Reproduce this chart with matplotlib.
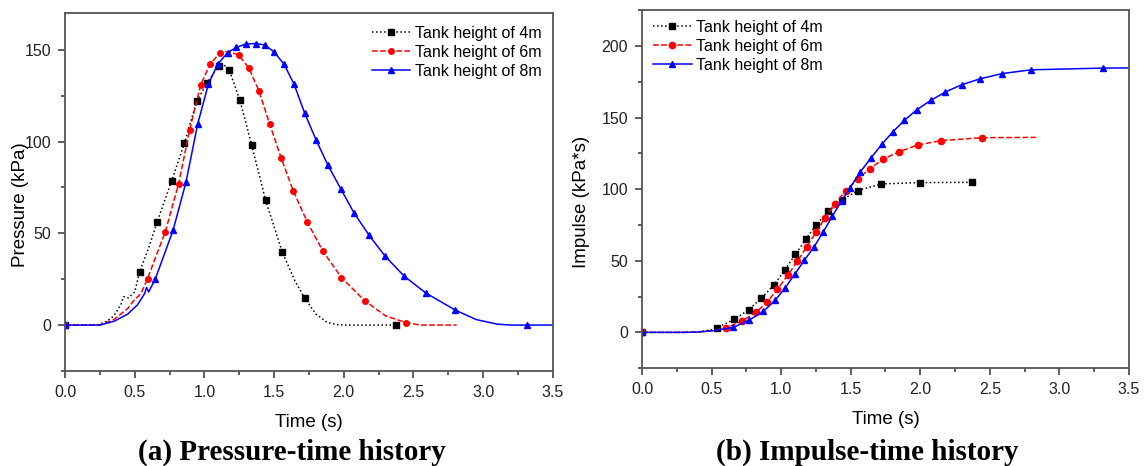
import numpy as np
import matplotlib
matplotlib.use("Agg")
import matplotlib.pyplot as plt
from matplotlib.ticker import MultipleLocator

plt.rcParams['font.family'] = ['Liberation Sans', 'DejaVu Sans']

labels = ["Tank height of 4m", "Tank height of 6m", "Tank height of 8m"]

# pressure-time history, line points (s, kPa)
p4_t = [0, 0.23, 0.30, 0.35, 0.40, 0.42, 0.455, 0.50, 0.535, 0.60, 0.66, 0.765, 0.856, 0.945, 1.02,
        1.10, 1.13, 1.178, 1.254, 1.34, 1.439, 1.559, 1.65, 1.719, 1.80, 1.88, 1.95, 2.0, 2.374, 2.40]
p4_v = [0, 0, 2, 5, 11, 15.5, 14.8, 18, 29, 42, 56, 78.6, 99, 122, 132,
        141, 142.5, 139, 122.7, 98, 68, 39.7, 24, 14.8, 6, 1.5, 0.2, 0, 0, 0]
p6_t = [0, 0.25, 0.35, 0.45, 0.50, 0.53, 0.55, 0.592, 0.65, 0.719, 0.815, 0.894, 0.974, 1.041, 1.110,
        1.17, 1.245, 1.319, 1.391, 1.468, 1.552, 1.638, 1.739, 1.851, 1.983, 2.151, 2.30, 2.448, 2.55, 2.81]
p6_v = [0, 0, 3, 9, 14, 16, 18, 25.2, 37, 50.7, 77, 106.3, 131, 142.2, 148.2,
        149, 147.3, 140, 127.7, 109.6, 90.8, 73, 56, 40.2, 25.9, 13.2, 5, 1.3, 0, 0]
p8_t = [0, 0.25, 0.35, 0.45, 0.52, 0.57, 0.585, 0.60, 0.647, 0.70, 0.775, 0.868, 0.952, 1.029, 1.096,
        1.168, 1.230, 1.297, 1.367, 1.434, 1.499, 1.571, 1.643, 1.719, 1.801, 1.885, 1.978, 2.072,
        2.182, 2.297, 2.434, 2.590, 2.799, 2.95, 3.10, 3.2, 3.317, 3.5]
p8_v = [0, 0, 2, 6, 11, 17, 20.5, 18, 25, 36, 51.6, 77.9, 109.6, 131.3, 142.2,
        148.5, 151.3, 153.1, 153.4, 152.6, 148.9, 142.2, 131.3, 115.6, 100.9, 87.3, 74.3, 61.3,
        48.9, 37.5, 26.6, 17.4, 8.2, 3, 0.5, 0, 0, 0]
# marker points
pm4_t = [0, 0.535, 0.66, 0.765, 0.856, 0.945, 1.02, 1.103, 1.178, 1.254, 1.34, 1.439, 1.559, 1.719, 2.374]
pm4_v = [0, 29, 56.2, 78.6, 99.1, 122.3, 132.1, 141.3, 139.1, 122.7, 98.2, 67.9, 39.7, 14.8, 0]
pm6_t = [0, 0.592, 0.719, 0.815, 0.894, 0.974, 1.041, 1.110, 1.245, 1.319, 1.391, 1.468, 1.552,
         1.638, 1.739, 1.851, 1.983, 2.151, 2.448]
pm6_v = [0, 25.2, 50.7, 77.0, 106.3, 131, 142.2, 148.2, 147.3, 140, 127.7, 109.6, 90.8,
         73, 56, 40.2, 25.9, 13.2, 1.3]
pm8_t = [0, 0.647, 0.775, 0.868, 0.952, 1.029, 1.096, 1.168, 1.230, 1.297, 1.367, 1.434, 1.499,
         1.571, 1.643, 1.719, 1.801, 1.885, 1.978, 2.072, 2.182, 2.297, 2.434, 2.590, 2.799, 3.317]
pm8_v = [0, 25, 51.6, 77.9, 109.6, 131.3, 142.2, 148.5, 151.3, 153.1, 153.4, 152.6, 148.9,
         142.2, 131.3, 115.6, 100.9, 87.3, 74.3, 61.3, 48.9, 37.5, 26.6, 17.4, 8.2, 0]

# impulse-time history (s, kPa*s)
i4_t = [0, 0.3, 0.4, 0.5, 0.541, 0.664, 0.767, 0.858, 0.947, 1.026, 1.102, 1.177, 1.253, 1.339,
        1.435, 1.551, 1.718, 2.0, 2.370, 2.40]
i4_v = [0, 0, 0.3, 1.8, 3.3, 9.1, 15.8, 23.9, 33, 43.5, 54.4, 64.9, 75.3, 84.6,
        92.3, 99, 103.7, 104.6, 104.8, 104.8]
i6_t = [0, 0.3, 0.4, 0.5, 0.601, 0.716, 0.822, 0.901, 0.973, 1.047, 1.117, 1.184, 1.251, 1.316,
        1.388, 1.464, 1.551, 1.639, 1.735, 1.850, 1.982, 2.147, 2.447, 2.83]
i6_v = [0, 0, 0.3, 1.2, 3, 7.7, 14.2, 21.4, 30, 39.8, 49.7, 59.8, 70, 80,
        90, 99, 107.2, 114.4, 121.1, 126.2, 130.9, 133.9, 136, 136.2]
i8_t = [0, 0.3, 0.4, 0.5, 0.657, 0.771, 0.872, 0.956, 1.030, 1.100, 1.167, 1.237, 1.304, 1.368,
        1.435, 1.495, 1.567, 1.644, 1.723, 1.802, 1.886, 1.975, 2.075, 2.181, 2.298, 2.430,
        2.590, 2.797, 3.314, 3.5]
i8_v = [0, 0, 0.2, 1.0, 3.5, 8.6, 14.6, 22.3, 31.2, 40.9, 50.4, 59.8, 70.4, 81.1,
        92, 100.9, 111.8, 121.6, 131.3, 140, 148.1, 155.5, 162, 167.9, 173, 177.1,
        180.8, 183.4, 184.6, 184.7]

styles = [dict(color='k', ls=':', marker='s'),
          dict(color='red', ls='--', marker='o'),
          dict(color='blue', ls='-', marker='^')]

fig = plt.figure(figsize=(11.45, 4.66), dpi=100)
ax1 = fig.add_axes([0.0568, 0.204, 0.426, 0.768])
ax2 = fig.add_axes([0.5607, 0.210, 0.4253, 0.768])


def draw(ax, lines, marks, ms):
    for (t, v), (mt, mv), st, lab in zip(lines, marks, styles, labels):
        ax.plot(t, v, color=st['color'], ls=st['ls'], lw=1.1)
        ax.plot(mt, mv, color=st['color'], ls='none', marker=st['marker'], ms=ms)
        ax.plot([], [], color=st['color'], ls=st['ls'], lw=1.1, marker=st['marker'], ms=ms, label=lab)


def i_marks(t, v):
    # markers sit on the read points, not on the padded start/tail points
    return [0] + t[4:-1], [0] + v[4:-1]


draw(ax1, [(p4_t, p4_v), (p6_t, p6_v), (p8_t, p8_v)],
     [(pm4_t, pm4_v), (pm6_t, pm6_v), (pm8_t, pm8_v)], 4.0)
draw(ax2, [(i4_t, i4_v), (i6_t, i6_v), (i8_t, i8_v)],
     [i_marks(i4_t, i4_v), i_marks(i6_t, i6_v), i_marks(i8_t, i8_v)], 4.5)

ax1.set_ylim(-25, 170)
ax2.set_ylim(-25, 225)
for ax, ylab in [(ax1, "Pressure (kPa)"), (ax2, "Impulse (kPa*s)")]:
    ax.set_xlim(0, 3.5)
    ax.xaxis.set_major_locator(MultipleLocator(0.5))
    ax.xaxis.set_minor_locator(MultipleLocator(0.25))
    ax.yaxis.set_major_locator(MultipleLocator(50))
    ax.yaxis.set_minor_locator(MultipleLocator(25))
    ax.tick_params(which='both', direction='out', labelsize=11.5, colors='#333333', width=1.1, pad=5)
    ax.tick_params(which='major', length=5)
    ax.tick_params(which='minor', length=3)
    ax.tick_params(labelcolor='#222222')
    for s in ax.spines.values():
        s.set_color('#555555')
        s.set_linewidth(1.3)
    ax.set_xlabel("Time (s)", fontsize=13.5, labelpad=10)
    ax.set_ylabel(ylab, fontsize=13.5)

ax1.yaxis.set_label_coords(-0.074, 0.465)
ax2.yaxis.set_label_coords(-0.107, 0.464)

ax1.legend(loc='upper right', bbox_to_anchor=(1.0, 0.995), frameon=False, fontsize=11.5,
           handlelength=2.4, labelspacing=0.25, handletextpad=0.3, borderaxespad=0.3)
ax2.legend(loc='upper left', bbox_to_anchor=(0.0, 1.005), frameon=False, fontsize=11.5,
           handlelength=2.4, labelspacing=0.25, handletextpad=0.3, borderaxespad=0.3)

fig.text(0.255, 0.03, "(a) Pressure-time history", ha='center', va='center',
         family='Liberation Serif', weight='bold', fontsize=21)
fig.text(0.757, 0.03, "(b) Impulse-time history", ha='center', va='center',
         family='Liberation Serif', weight='bold', fontsize=21)

fig.savefig("out.png", dpi=100)
plt.close(fig)
